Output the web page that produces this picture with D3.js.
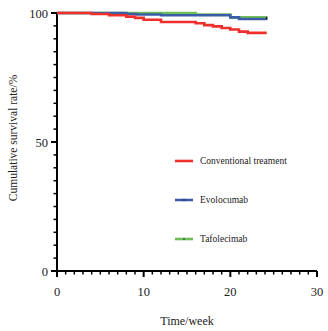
<!DOCTYPE html>
<html>
<head>
<meta charset="utf-8">
<script src="https://cdn.jsdelivr.net/npm/d3@7"></script>
<style>
  body { margin: 0; background: #fff; }
  svg text { font-family: "Liberation Serif", "DejaVu Serif", serif; fill: #222; }
</style>
</head>
<body>
<svg id="chart" width="328" height="331"></svg>
<script>
// Kaplan-Meier style steps: [week, survival %]
const conventional = [[0,100],[4,99.6],[6,99.1],[8,98.6],[9,98.1],[10,97.4],[12,96.5],[16,96.0],[17,95.3],[18,94.8],[19,94.2],[20,93.6],[21,92.8],[22,92.3],[24.2,92.3]];
const evolocumab = [[0,100],[8,99.6],[9.2,99.4],[12,99.1],[20,98.3],[21,97.7],[24.2,97.7]];
const tafolecimab = [[0,100],[16,99.4],[20,98.3],[24.2,98.3]];

const seriesNames = ["Conventional treament", "Evolocumab", "Tafolecimab"];
const seriesColors = ["#ee2f2c", "#3b5ca8", "#6fbf57"];
const xTicks = [0, 10, 20, 30];
const yTicks = [0, 50, 100];

const svg = d3.select("#chart");

const x = d3.scaleLinear().domain([0, 30]).range([57, 317]);
const y = d3.scaleLinear().domain([0, 100]).range([271, 13]);

// axes ---------------------------------------------------------
const xAxis = svg.append("g").attr("transform", `translate(0,${y(0)})`);
xAxis.append("line")
  .attr("x1", x(0)).attr("x2", x(30))
  .attr("stroke", "#000").attr("stroke-width", 2);
xAxis.selectAll("line.minor")
  .data(d3.range(0, 31))
  .enter().append("line")
  .attr("class", "minor")
  .attr("x1", d => x(d)).attr("x2", d => x(d))
  .attr("y1", 0).attr("y2", d => d % 10 === 0 ? 6 : 3.5)
  .attr("stroke", "#000").attr("stroke-width", d => d % 10 === 0 ? 2 : 1.5);
xAxis.selectAll("text")
  .data(xTicks)
  .enter().append("text")
  .attr("x", d => x(d)).attr("y", 25)
  .attr("text-anchor", "middle")
  .style("font-size", "12.5px")
  .text(d => d);

const yAxis = svg.append("g").attr("transform", `translate(${x(0)},0)`);
yAxis.append("line")
  .attr("y1", y(100)).attr("y2", y(0) + 1)
  .attr("stroke", "#000").attr("stroke-width", 2);
yAxis.selectAll("line.minor")
  .data(d3.range(0, 101, 5))
  .enter().append("line")
  .attr("class", "minor")
  .attr("y1", d => y(d)).attr("y2", d => y(d))
  .attr("x1", 0).attr("x2", d => d % 50 === 0 ? -6 : -3.5)
  .attr("stroke", "#000").attr("stroke-width", d => d % 50 === 0 ? 2 : 1.5);
yAxis.selectAll("text")
  .data(yTicks)
  .enter().append("text")
  .attr("x", -9).attr("y", d => y(d) + 4.5)
  .attr("text-anchor", "end")
  .style("font-size", "12.5px")
  .text(d => d);

svg.append("text")
  .attr("x", x(15)).attr("y", 325)
  .attr("text-anchor", "middle")
  .style("font-size", "12px")
  .text("Time/week");

svg.append("text")
  .attr("transform", `translate(17,${y(50) - 4}) rotate(-90)`)
  .attr("text-anchor", "middle")
  .style("font-size", "11.5px")
  .text("Cumulative survival rate/%");

// curves -------------------------------------------------------
const line = d3.line()
  .x(d => x(d[0]))
  .y(d => y(d[1]))
  .curve(d3.curveStepAfter);

const curves = [tafolecimab, evolocumab, conventional];
const curveColors = [seriesColors[2], seriesColors[1], seriesColors[0]];
svg.selectAll("path.km")
  .data(curves)
  .enter().append("path")
  .attr("class", "km")
  .attr("d", line)
  .attr("fill", "none")
  .attr("stroke", (d, i) => curveColors[i])
  .attr("stroke-width", 2.6);

// end censor marks on evolocumab / tafolecimab
svg.selectAll("circle.cens")
  .data([evolocumab, tafolecimab])
  .enter().append("circle")
  .attr("class", "cens")
  .attr("cx", d => x(d[d.length - 1][0]))
  .attr("cy", d => y(d[d.length - 1][1]))
  .attr("r", 0.9)
  .attr("fill", "#222");

// legend -------------------------------------------------------
const legend = svg.append("g").attr("transform", "translate(175,161)");
legend.selectAll("g")
  .data(seriesNames)
  .enter().append("g")
  .attr("transform", (d, i) => `translate(0,${i * 39})`)
  .each(function (d, i) {
    const row = d3.select(this);
    row.append("line")
      .attr("x1", 0).attr("x2", 18)
      .attr("stroke", seriesColors[i]).attr("stroke-width", 2.6);
    if (i > 0) {
      row.append("circle").attr("cx", 9).attr("cy", 0).attr("r", 0.8).attr("fill", "#222");
    }
    row.append("text")
      .attr("x", 25).attr("y", 3)
      .style("font-size", "9.5px")
      .text(d);
  });
</script>
</body>
</html>
